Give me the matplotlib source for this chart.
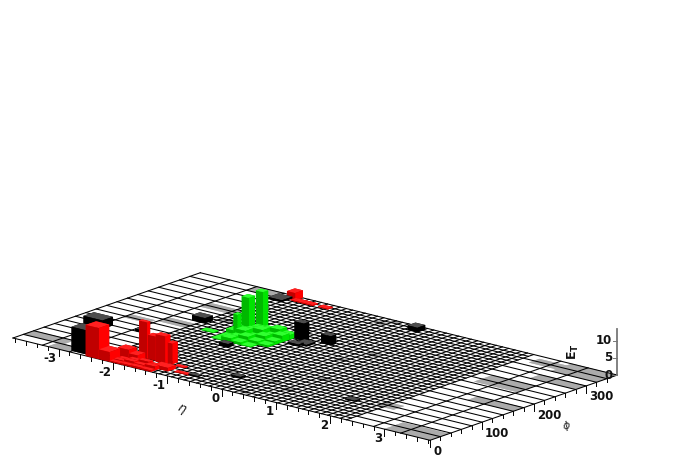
import numpy as np
from matplotlib import pyplot as plt
from mpl_toolkits.mplot3d import proj3d

# tower edges in eta, the negative side is the mirror of this
eta_edges_pos = [0.0, 0.115, 0.23, 0.345, 0.46, 0.575, 0.69, 0.805, 0.92, 1.035,
                 1.15, 1.265, 1.38, 1.495, 1.61, 1.725, 1.84, 1.955, 2.07, 2.185,
                 2.3, 2.8, 3.3, 3.84]
eta_ticks = [-3, -2, -1, 0, 1, 2, 3]
phi_ticks = [0, 100, 200, 300]
et_ticks = [0, 5, 10]

# towers: eta from, eta to, phi from, phi to, E_T
red_eta0 = [-2.5, -2.26, -2.1, -1.9, -1.89, -1.74, -1.566, -1.392, -1.39, -1.22, -1.04,
            -2.1, -1.95, -2.0, -1.5]
red_eta1 = [-2.26, -2.06, -1.9, -1.74, -1.745, -1.566, -1.392, -1.305, -1.13, -1.05, -0.78,
            -1.95, -1.6, -1.6, -1.32]
red_phi0 = [0, 0, 20, 20, 39, 40, 37, 42, 15, 38, 18, 345, 342, 342, 342]
red_phi1 = [20, 20, 35, 35, 45, 50, 47, 52, 30, 45, 25, 360, 352, 352, 352]
red_et = [9, 2.8, 3, 2, 10.6, 7, 8, 6, 1, 0.2, 0.2, 2.2, 0.2, 0.2, 0.2]

# low red tiles in front of the tall ones
red_tile_eta = [-2.06, -1.87, -1.68, -1.49, -1.3]
red_tile_phi = [0, 8, 16, 24]
red_tile_et = [[0.3, 0.4, 0.5, 0.4],
               [0.5, 1.0, 0.7, 1.1],
               [0.4, 0.9, 1.3, 0.8]]

green_eta0 = [-1.57, -1.63, -1.57, -2.05]
green_eta1 = [-1.44, -1.5, -1.5, -1.83]
green_phi0 = [230, 209, 187, 175]
green_phi1 = [240, 221, 195, 185]
green_et = [10.5, 9.7, 6, 0.2]

# the green block under the tall towers, one row per phi band
green_tile_eta = [-1.7, -1.52, -1.34, -1.16, -0.98, -0.8]
green_tile_phi = [158, 172, 186, 200, 214, 228]
green_tile_et = [[0.2, 1.2, 0.7, 0.2, 0.0],
                 [0.2, 0.8, 1.6, 0.9, 0.5],
                 [1.2, 1.9, 0.8, 1.7, 0.9],
                 [0.8, 1.3, 2.1, 1.0, 1.8],
                 [0.6, 1.1, 1.4, 2.2, 1.3]]

black_eta0 = [-2.81, -3.5, -2.74, -2.46, -2.3, -0.783, -0.35, -0.6, -0.7, -1.39, 0.17, -0.3, -0.8, 1.65]
black_eta1 = [-2.5, -3.15, -2.6, -2.22, -2.05, -0.609, -0.17, -0.4, -0.5, -1.22, 0.35, -0.13, -0.63, 1.83]
black_phi0 = [5, 100, 120, 200, 330, 222, 228, 205, 200, 140, 340, 50, 20, 65]
black_phi1 = [25, 120, 130, 215, 350, 232, 238, 222, 210, 150, 355, 60, 28, 75]
black_et = [7, 2.5, 0.7, 1.5, 0.5, 5, 2.7, 0.5, 0.5, 1, 1.3, 0.4, 0.3, 0.3]

grey_eta0 = [-3.84, -3.2, -2.8, -3.3, -2.8, -2.2, -2.8, -0.42, -0.28, 0.25, 0.65, 0.72, 0.25, -0.55,
             2.17, 3.0, 2.5, 3.0, 2.5, 3.0, 3.0, 3.0, 0.5, 0.3]
grey_eta1 = [-3.1, -2.8, -2.3, -2.85, -2.2, -1.9, -2.3, -0.25, -0.1, 0.42, 0.83, 0.9, 0.42, -0.38,
             2.5, 3.84, 3.3, 3.84, 3.3, 3.84, 3.84, 3.84, 0.67, 0.48]
grey_phi0 = [20, 0, 170, 155, 250, 220, 340, 335, 350, 62, 46, 108, 5, 63,
             70, 160, 225, 280, 330, 320, 340, 0, 226, 185]
grey_phi1 = [40, 20, 190, 170, 270, 230, 360, 345, 360, 72, 56, 118, 13, 73,
             90, 180, 260, 300, 350, 340, 360, 36, 236, 195]

# where the floor corners sit in the picture
left_px = (13, 338)
bottom_px = (430, 437)
eta_max = 3.84
phi_max = 360
et_max = 13.5
azim = -50
elev = 17
box = (538, 288, 48)


def depth(eta0, eta1, phi0, phi1):
    xb = (0.5 * (eta0 + eta1) + eta_max) / (2 * eta_max) * box[0]
    yb = 0.5 * (phi0 + phi1) / phi_max * box[1]
    return xb * np.cos(np.radians(azim)) + yb * np.sin(np.radians(azim))


def towers(eta0, eta1, phi0, phi1, et, faces):
    items = []
    for i in range(len(et)):
        items.append((depth(eta0[i], eta1[i], phi0[i], phi1[i]), eta0[i], eta1[i], phi0[i], phi1[i], et[i], faces))
    return items


def tiles(etas, phis, et, faces):
    items = []
    for r, row in enumerate(et):
        for c, h in enumerate(row):
            if h > 0:
                items.append((depth(etas[c], etas[c + 1], phis[r], phis[r + 1]),
                              etas[c], etas[c + 1], phis[r], phis[r + 1], h, faces))
    return items


def main():
    fig = plt.figure(figsize=(6.78, 4.75), dpi=100)
    # a big square axes, so the view is not clipped by the box mplot3d keeps
    ax = fig.add_axes([-0.5, -1, 2, 2 * 678 / 475], projection='3d', computed_zorder=False)
    ax.set_proj_type('ortho')
    ax.view_init(elev=elev, azim=azim)
    ax.set_xlim(-eta_max, eta_max)
    ax.set_ylim(0, phi_max)
    ax.set_zlim(0, et_max)
    ax.set_box_aspect(box, zoom=1.0)
    ax.set_axis_off()
    ax.patch.set_alpha(0)

    def px(x, y, z=0):
        xv, yv, _ = proj3d.proj_transform(x, y, z, ax.get_proj())
        return ax.transData.transform((xv, yv))

    # fit scale and place of the view onto the floor corners
    fig.canvas.draw()
    a, b = px(-eta_max, 0), px(eta_max, 0)
    ax.set_box_aspect(box, zoom=(bottom_px[0] - left_px[0]) / (b[0] - a[0]))
    fig.canvas.draw()
    a = px(-eta_max, 0)
    pos = ax.get_position(original=True)
    ax.set_position([pos.x0 + (left_px[0] - a[0]) / 678, pos.y0 + (475 - left_px[1] - a[1]) / 475,
                     pos.width, pos.height])
    fig.canvas.draw()

    # flat grey towers lie under the grid lines
    for i in range(len(grey_eta0)):
        ax.bar3d(grey_eta0[i], grey_phi0[i], 0, grey_eta1[i] - grey_eta0[i], grey_phi1[i] - grey_phi0[i], 0.05,
                 color='#ababab', shade=False, linewidth=0, zorder=1)

    eta_edges = sorted(set([-e for e in eta_edges_pos] + eta_edges_pos))
    for e in eta_edges:
        ax.plot([e, e], [0, phi_max], [0, 0], color='k', lw=0.75, zorder=2)
    for p in range(0, 361, 10):
        if p % 20 == 0:
            ax.plot([-eta_max, eta_max], [p, p], [0, 0], color='k', lw=0.75, zorder=2)
        else:
            ax.plot([-2.3, 2.3], [p, p], [0, 0], color='k', lw=0.75, zorder=2)

    # ticks
    for e in np.arange(-3.8, 3.81, 0.2):
        major = abs(e - round(e)) < 0.01
        ax.plot([e, e], [0, 0], [0, -2.0 if major else -1.0], color='k', lw=0.7, zorder=3)
    for p in range(0, 351, 20):
        major = p % 100 == 0
        ax.plot([eta_max, eta_max], [p, p], [0, -2.0 if major else -1.0], color='k', lw=0.7, zorder=3)

    font = dict(family='DejaVu Sans', weight='bold', fontsize=8.5, color='#111111')
    for e in eta_ticks:
        x, y = px(e, 0)
        fig.text((x - 2) / 678, (y - 9.5) / 475, str(e), ha='right', va='center', **font)
    for p in phi_ticks:
        x, y = px(eta_max, p)
        fig.text((x + 3) / 678, (y - 11) / 475, str(p), ha='left', va='center', **font)

    ax.plot([eta_max, eta_max], [phi_max, phi_max], [0, et_max], color='#777777', lw=1.3, zorder=3)
    for z in et_ticks:
        x, y = px(eta_max, phi_max, z)
        fig.add_artist(plt.Line2D([(x - 4) / 678, x / 678], [y / 475, y / 475], color='#777777', lw=0.7))
        fig.text((x - 5) / 678, y / 475, str(z), ha='right', va='center', **font)

    fig.text(181 / 678, 1 - 410 / 475, r'$\eta$', rotation=-25, ha='center', va='center', fontsize=9, color='#222222')
    fig.text(567 / 678, 1 - 426 / 475, r'$\phi$', rotation=20, ha='center', va='center', fontsize=8, color='#222222')
    fig.text(573 / 678, 1 - 352 / 475, r'$\mathregular{E_T}$', rotation=90, ha='center', va='center',
             fontsize=9, color='#111111', weight='bold')

    red_faces = ['#c00000', '#ff2020', '#c00000', '#c00000', '#ff0000', '#ff0000']
    green_faces = ['#00b800', '#30ff30', '#00b800', '#00b800', '#00e400', '#00e400']
    black_faces = ['#000000', '#4d4d4d', '#000000', '#000000', '#000000', '#000000']
    items = towers(red_eta0, red_eta1, red_phi0, red_phi1, red_et, red_faces)
    items += tiles(red_tile_eta, red_tile_phi, red_tile_et, red_faces)
    items += towers(green_eta0, green_eta1, green_phi0, green_phi1, green_et, green_faces)
    items += tiles(green_tile_eta, green_tile_phi, green_tile_et, green_faces)
    items += towers(black_eta0, black_eta1, black_phi0, black_phi1, black_et, black_faces)
    items.sort(key=lambda t: t[0])
    for n, (d, e0, e1, p0, p1, et, faces) in enumerate(items):
        art = ax.bar3d(e0, p0, 0, e1 - e0, p1 - p0, et, color=faces, shade=False, linewidth=0, edgecolor='none')
        art.set_zorder(10 + n)

    fig.savefig('out.png', dpi=100)


if __name__ == '__main__':
    main()
